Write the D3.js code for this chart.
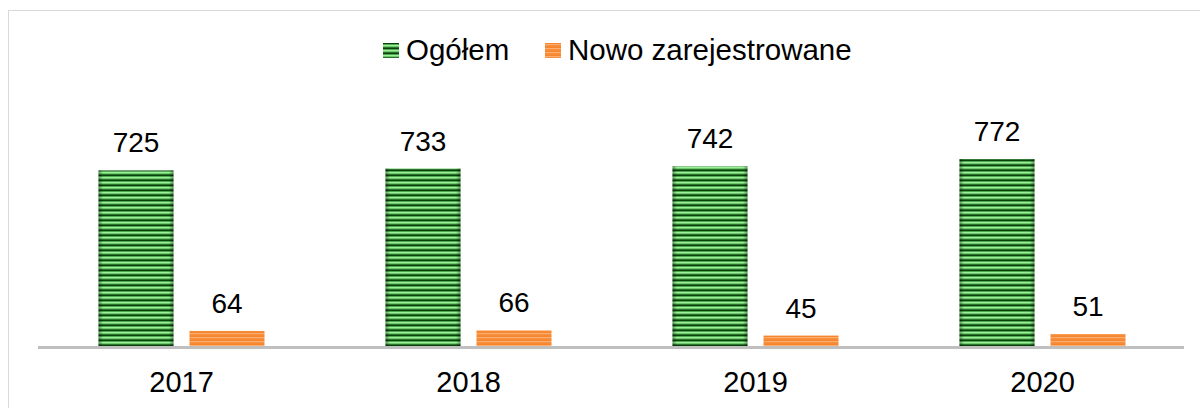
<!DOCTYPE html>
<html>
<head>
<meta charset="utf-8">
<script src="https://cdn.jsdelivr.net/npm/d3@7"></script>
<style>
  html, body { margin: 0; padding: 0; background: #fff; }
  svg { display: block; font-family: "Liberation Sans", Arial, sans-serif; }
</style>
</head>
<body>
<svg id="chart"></svg>
<script>
// data
const years = ["2017", "2018", "2019", "2020"];
const seriesKeys = ["ogolem", "nowo"];
const seriesNames = ["Ogółem", "Nowo zarejestrowane"];
const ogolem = [725, 733, 742, 772];
const nowo = [64, 66, 45, 51];

document.addEventListener("DOMContentLoaded", function () {
    const width = 1200;
    const height = 408;
    const baseY = 346.5;

    const svg = d3.select("#chart")
        .attr("width", width)
        .attr("height", height);

    const rows = years.map((y, i) => ({ year: y, ogolem: ogolem[i], nowo: nowo[i] }));

    // ================================
    // patterns (striped fills)
    // ================================
    const defs = svg.append("defs");

    function stripes(id, colors) {
        const p = defs.append("pattern")
            .attr("id", id)
            .attr("patternUnits", "userSpaceOnUse")
            .attr("width", 8)
            .attr("height", colors.length);
        colors.forEach((c, i) => {
            p.append("rect")
                .attr("x", 0).attr("y", i)
                .attr("width", 8).attr("height", 1)
                .attr("fill", c);
        });
    }
    stripes("pat-green", ["#0a420c", "#4fa84f", "#9cf09a", "#6cc86a", "#2a722b"]);
    stripes("pat-orange", ["#f5862e", "#fbae72", "#f7903c", "#f88a35"]);

    const edge = defs.append("linearGradient").attr("id", "edge");
    [[0, 0.35], [0.06, 0], [0.94, 0], [1, 0.35]].forEach(([o, a]) => {
        edge.append("stop")
            .attr("offset", o)
            .attr("stop-color", "#000")
            .attr("stop-opacity", a);
    });

    const fills = { ogolem: "url(#pat-green)", nowo: "url(#pat-orange)" };

    // ================================
    // scales
    // ================================
    const x0 = d3.scaleBand()
        .domain(years)
        .range([38, 1186]);

    const x1 = d3.scaleBand()
        .domain(seriesKeys)
        .range([60.5, 226.5])
        .paddingInner(16 / 91);

    const y = d3.scaleLinear()
        .domain([0, 800])
        .range([baseY, baseY - 800 * 0.2428]);

    // ================================
    // frame
    // ================================
    svg.append("line")
        .attr("x1", 8).attr("x2", width)
        .attr("y1", 10.5).attr("y2", 10.5)
        .attr("stroke", "#d9d9d9");
    svg.append("line")
        .attr("x1", 8.5).attr("x2", 8.5)
        .attr("y1", 10).attr("y2", height)
        .attr("stroke", "#d9d9d9");

    // ================================
    // bars
    // ================================
    const groups = svg.selectAll("g.year")
        .data(rows)
        .join("g")
        .attr("class", "year")
        .attr("transform", d => `translate(${x0(d.year)},0)`);

    const bars = groups.selectAll("g.bar")
        .data(d => seriesKeys.map(k => ({ key: k, value: d[k] })))
        .join("g")
        .attr("class", "bar");

    bars.append("rect")
        .attr("x", d => x1(d.key))
        .attr("y", d => y(d.value))
        .attr("width", x1.bandwidth())
        .attr("height", d => baseY - y(d.value))
        .attr("fill", d => fills[d.key]);

    bars.filter(d => d.key === "ogolem").append("rect")
        .attr("x", d => x1(d.key))
        .attr("y", d => y(d.value))
        .attr("width", x1.bandwidth())
        .attr("height", d => baseY - y(d.value))
        .attr("fill", "url(#edge)");

    bars.append("text")
        .attr("x", d => x1(d.key) + x1.bandwidth() / 2)
        .attr("y", d => y(d.value) - 18)
        .attr("text-anchor", "middle")
        .style("font-size", "28px")
        .style("fill", "#000")
        .text(d => d.value);

    // axis line
    svg.append("line")
        .attr("x1", 38).attr("x2", 1184)
        .attr("y1", 347.5).attr("y2", 347.5)
        .attr("stroke", "#bfbfbf")
        .attr("stroke-width", 3);

    // category labels
    const xAxis = svg.append("g")
        .attr("transform", "translate(0, 392)")
        .call(d3.axisBottom(x0).tickSize(0).tickPadding(0));
    xAxis.select(".domain").remove();
    xAxis.selectAll("text")
        .attr("dy", 0)
        .attr("y", 0)
        .style("font-family", "\"Liberation Sans\", Arial, sans-serif")
        .style("font-size", "29px")
        .style("fill", "#000");

    // ================================
    // legend
    // ================================
    const legendX = [383, 545];
    const legend = svg.selectAll("g.legend")
        .data(seriesKeys)
        .join("g")
        .attr("class", "legend")
        .attr("transform", (d, i) => `translate(${legendX[i]}, 43)`);

    legend.append("rect")
        .attr("width", 16)
        .attr("height", 15)
        .attr("fill", d => fills[d]);

    legend.append("text")
        .attr("x", 23)
        .attr("y", 17)
        .style("font-size", "29.5px")
        .style("fill", "#000")
        .text((d, i) => seriesNames[i]);
});
</script>
</body>
</html>
